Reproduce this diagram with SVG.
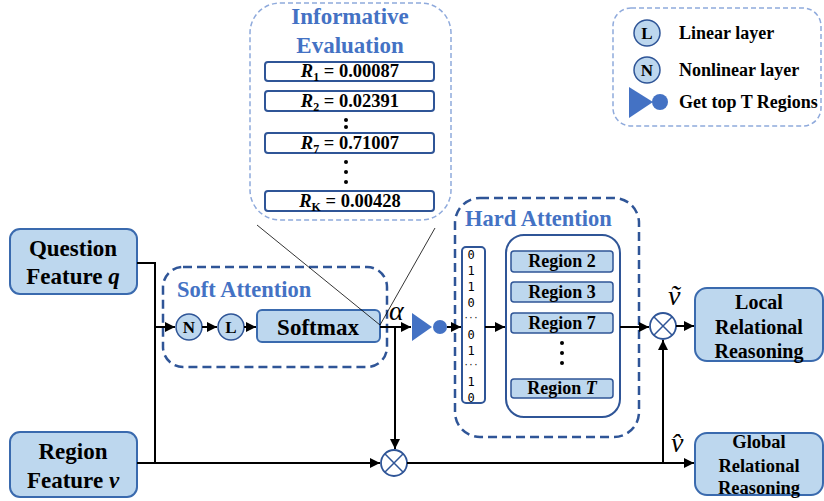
<svg xmlns="http://www.w3.org/2000/svg" width="824" height="501" viewBox="0 0 824 501">
<defs>
<style>
.node{fill:#BDD7EE;stroke:#3A6AAE;stroke-width:2}
.t{font-family:"Liberation Serif","Times New Roman",serif;font-weight:bold;fill:#000}
.blue{font-family:"Liberation Serif","Times New Roman",serif;font-weight:bold;fill:#4472C4}
.dashd{fill:none;stroke:#2F5597;stroke-width:2.5;stroke-dasharray:9 5}
.dashl{fill:none;stroke:#8FAADC;stroke-width:1.5;stroke-dasharray:5 3}
.wbox{fill:#fff;stroke:#2F5597;stroke-width:2}
.rbox{fill:#BDD7EE;stroke:#2F5597;stroke-width:1.5}
.circ{fill:#BDD7EE;stroke:#2F5597;stroke-width:1.5}
.line{fill:none;stroke:#000;stroke-width:2}
.thin{fill:none;stroke:#000;stroke-width:0.8}
.otimes{fill:#fff;stroke:#2F5597;stroke-width:1.8}
.bits{font-family:"DejaVu Sans Mono",monospace;font-size:12px;fill:#000}
.ell{font-family:"DejaVu Sans Mono",monospace;font-size:8px;fill:#000}
</style>
<marker id="arr" viewBox="0 0 10 10" refX="10" refY="5" markerWidth="5" markerHeight="5" orient="auto" markerUnits="strokeWidth">
<path d="M0,0 L10,5 L0,10 z" fill="#000"/>
</marker>
</defs>
<rect width="824" height="501" fill="#fff"/>

<!-- Informative evaluation -->
<g id="informative">
<rect x="250" y="3" width="201" height="217" rx="30" class="dashl"/>
<text x="350" y="24" text-anchor="middle" font-size="23" class="blue">Informative</text>
<text x="350" y="53" text-anchor="middle" font-size="23" class="blue">Evaluation</text>
<rect x="265" y="62" width="169" height="19" rx="3" class="wbox"/>
<text x="350" y="77" text-anchor="middle" font-size="18.5" class="t"><tspan font-style="italic">R</tspan><tspan font-size="12" dy="4">1</tspan><tspan dy="-4"> = 0.00087</tspan></text>
<rect x="265" y="91" width="169" height="20" rx="3" class="wbox"/>
<text x="350" y="107" text-anchor="middle" font-size="18.5" class="t"><tspan font-style="italic">R</tspan><tspan font-size="12" dy="4">2</tspan><tspan dy="-4"> = 0.02391</tspan></text>
<circle cx="346" cy="120" r="2" fill="#000"/>
<circle cx="346" cy="127" r="2" fill="#000"/>
<rect x="265" y="133" width="169" height="20" rx="3" class="wbox"/>
<text x="350" y="149" text-anchor="middle" font-size="18.5" class="t"><tspan font-style="italic">R</tspan><tspan font-size="12" dy="4">7</tspan><tspan dy="-4"> = 0.71007</tspan></text>
<circle cx="346" cy="162" r="2" fill="#000"/>
<circle cx="346" cy="172" r="2" fill="#000"/>
<circle cx="346" cy="182" r="2" fill="#000"/>
<rect x="265" y="191" width="169" height="20" rx="3" class="wbox"/>
<text x="350" y="207" text-anchor="middle" font-size="18.5" class="t"><tspan font-style="italic">R</tspan><tspan font-size="12" dy="4">K</tspan><tspan dy="-4"> = 0.00428</tspan></text>
</g>

<!-- Legend -->
<g id="legend">
<rect x="613" y="8" width="208" height="118" rx="18" class="dashl"/>
<circle cx="647" cy="33" r="13" class="circ"/>
<text x="647" y="39" text-anchor="middle" font-size="17" class="t">L</text>
<text x="679" y="39" font-size="18" class="t">Linear layer</text>
<circle cx="647" cy="70" r="13" class="circ"/>
<text x="647" y="76" text-anchor="middle" font-size="17" class="t">N</text>
<text x="679" y="76" font-size="18" class="t">Nonlinear layer</text>
<polygon points="629,87 653,102 629,118" fill="#4472C4"/>
<circle cx="660" cy="102" r="8" fill="#4472C4"/>
<text x="679" y="108" font-size="18" class="t">Get top T Regions</text>
</g>

<!-- Question feature -->
<g id="question">
<rect x="10" y="229" width="127" height="65" rx="10" class="node"/>
<text x="73" y="256" text-anchor="middle" font-size="23" class="t">Question</text>
<text x="73" y="284" text-anchor="middle" font-size="23" class="t">Feature <tspan font-style="italic">q</tspan></text>
</g>

<!-- Region feature -->
<g id="region">
<rect x="10" y="432" width="127" height="65" rx="10" class="node"/>
<text x="73" y="459" text-anchor="middle" font-size="23" class="t">Region</text>
<text x="73" y="488" text-anchor="middle" font-size="23" class="t">Feature <tspan font-style="italic">v</tspan></text>
</g>

<!-- Soft attention -->
<g id="soft-attention">
<rect x="163" y="267" width="224" height="100" rx="20" class="dashd"/>
<text x="177" y="297" font-size="22.5" class="blue">Soft Attention</text>
<circle cx="189" cy="327" r="13" class="circ"/>
<text x="189" y="333" text-anchor="middle" font-size="17" class="t">N</text>
<circle cx="231" cy="327" r="13" class="circ"/>
<text x="231" y="333" text-anchor="middle" font-size="17" class="t">L</text>
<rect x="257" y="310" width="123" height="32" rx="5" class="node"/>
<text x="318" y="335" text-anchor="middle" font-size="23" class="t">Softmax</text>
</g>

<!-- Top-T selector -->
<g id="selector">
<polygon points="412,313 432,327 412,341" fill="#4472C4"/>
<circle cx="440" cy="327" r="7" fill="#4472C4"/>
</g>

<!-- Hard attention -->
<g id="hard-attention">
<rect x="455" y="198" width="184" height="239" rx="25" class="dashd"/>
<text x="465" y="226" font-size="22.5" class="blue">Hard Attention</text>
<rect x="462" y="247" width="23" height="156" rx="4" class="wbox"/>
<text x="471" y="259" text-anchor="middle" class="bits">0</text>
<text x="471" y="275" text-anchor="middle" class="bits">1</text>
<text x="471" y="291" text-anchor="middle" class="bits">1</text>
<text x="471" y="307" text-anchor="middle" class="bits">0</text>
<text x="471" y="321" text-anchor="middle" class="ell">···</text>
<text x="471" y="339" text-anchor="middle" class="bits">0</text>
<text x="471" y="355" text-anchor="middle" class="bits">1</text>
<text x="471" y="368" text-anchor="middle" class="ell">···</text>
<text x="471" y="386" text-anchor="middle" class="bits">1</text>
<text x="471" y="402" text-anchor="middle" class="bits">0</text>
<rect x="506" y="235" width="114" height="182" rx="18" class="wbox"/>
<rect x="511" y="251" width="102" height="21" rx="3" class="rbox"/>
<text x="562" y="267" text-anchor="middle" font-size="18" class="t">Region 2</text>
<rect x="511" y="282" width="102" height="20" rx="3" class="rbox"/>
<text x="562" y="298" text-anchor="middle" font-size="18" class="t">Region 3</text>
<rect x="511" y="313" width="102" height="20" rx="3" class="rbox"/>
<text x="562" y="329" text-anchor="middle" font-size="18" class="t">Region 7</text>
<circle cx="562" cy="343" r="2" fill="#000"/>
<circle cx="562" cy="353" r="2" fill="#000"/>
<circle cx="562" cy="363" r="2" fill="#000"/>
<rect x="511" y="379" width="102" height="19" rx="3" class="rbox"/>
<text x="562" y="394" text-anchor="middle" font-size="18" class="t">Region <tspan font-style="italic">T</tspan></text>
</g>

<!-- Otimes nodes -->
<g id="mult-local">
<circle cx="663" cy="326" r="13" class="otimes"/>
<path d="M653.8,316.8 L672.2,335.2 M672.2,316.8 L653.8,335.2" stroke="#2F5597" stroke-width="1.5"/>
</g>
<g id="mult-global">
<circle cx="394" cy="463" r="13" class="otimes"/>
<path d="M384.8,453.8 L403.2,472.2 M403.2,453.8 L384.8,472.2" stroke="#2F5597" stroke-width="1.5"/>
</g>

<!-- Local / Global -->
<g id="local">
<rect x="695" y="288" width="128" height="73" rx="12" class="node"/>
<text x="759" y="309" text-anchor="middle" font-size="20" class="t">Local</text>
<text x="759" y="334" text-anchor="middle" font-size="20" class="t">Relational</text>
<text x="759" y="358" text-anchor="middle" font-size="20" class="t">Reasoning</text>
</g>
<g id="global">
<rect x="695" y="433" width="128" height="62" rx="12" class="node"/>
<text x="759" y="448" text-anchor="middle" font-size="18.5" class="t">Global</text>
<text x="759" y="472" text-anchor="middle" font-size="18.5" class="t">Relational</text>
<text x="759" y="494" text-anchor="middle" font-size="18.5" class="t">Reasoning</text>
</g>

<!-- Labels -->
<g id="labels">
<text x="389" y="320" font-size="28" font-style="italic" font-family="Liberation Serif, serif" fill="#000">α</text>
<text x="668" y="305" font-size="28" font-style="italic" font-family="Liberation Serif, serif" fill="#000">ṽ</text>
<text x="671" y="452" font-size="28" font-style="italic" font-family="Liberation Serif, serif" fill="#000">v̂</text>
</g>

<!-- Connectors -->
<g id="connectors">
<path d="M137,263 L155,263 L155,463" class="line"/>
<path d="M155,327 L175,327" class="line" marker-end="url(#arr)"/>
<path d="M202,327 L217,327" class="line" marker-end="url(#arr)"/>
<path d="M244,327 L256,327" class="line" marker-end="url(#arr)"/>
<path d="M380,327 L411,327" class="line" marker-end="url(#arr)"/>
<path d="M395,327 L395,449" class="line" marker-end="url(#arr)"/>
<path d="M447,327 L461,327" class="line" marker-end="url(#arr)"/>
<path d="M485,327 L505,327" class="line" marker-end="url(#arr)"/>
<path d="M620,327 L649,327" class="line" marker-end="url(#arr)"/>
<path d="M676,326 L694,326" class="line" marker-end="url(#arr)"/>
<path d="M137,463 L380,463" class="line" marker-end="url(#arr)"/>
<path d="M407,463 L694,463" class="line" marker-end="url(#arr)"/>
<path d="M663,463 L663,340" class="line" marker-end="url(#arr)"/>
<path d="M257,225 L380,325 L435,228" class="thin"/>
</g>
</svg>
